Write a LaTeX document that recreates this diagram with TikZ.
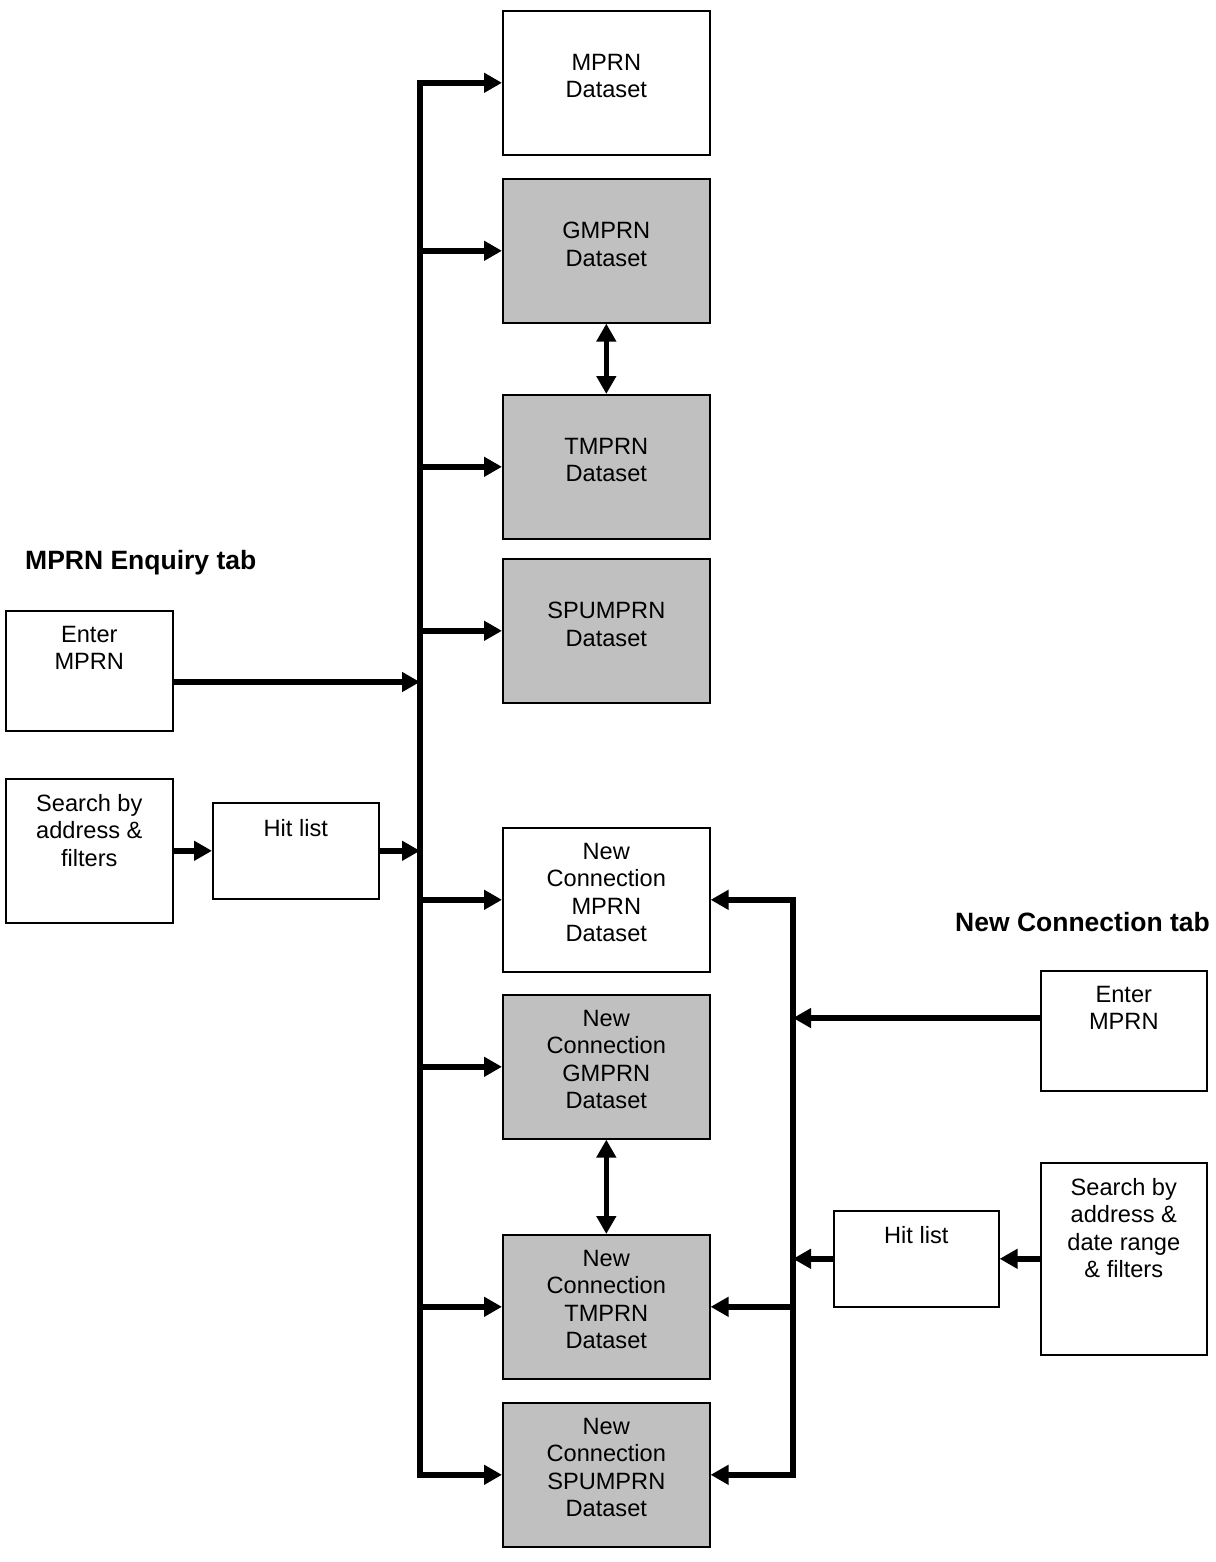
\documentclass[tikz,border=0pt]{standalone}
\usepackage{fontspec}
\setmainfont{Liberation Sans}
\usetikzlibrary{arrows.meta,calc}
\definecolor{boxgrey}{RGB}{192,192,192}
\begin{document}
\begin{tikzpicture}[x=1pt,y=-1pt,
  box/.style={draw, line width=1.6pt, inner sep=0pt, anchor=north west},
  dset/.style={box, minimum width=207pt, minimum height=144pt},
  greybox/.style={fill=boxgrey},
  txt/.style={anchor=north, align=center, inner sep=0pt, font=\fontsize{23.6}{27.5}\selectfont},
  head/.style={anchor=west, inner sep=0pt, font=\fontsize{26.5}{30}\selectfont\bfseries},
  bus/.style={line width=5.5pt, line cap=rect},
  conn/.style={line width=5.5pt, -{Triangle[length=18pt,width=19pt]}},
  dconn/.style={line width=5.5pt, {Triangle[length=18pt,width=19pt]}-{Triangle[length=18pt,width=19pt]}},
]
\useasboundingbox (0,0) rectangle (1215,1562);

% dataset boxes
\node[dset] (mprn) at (502,10) {};
\node[dset, greybox] (gmprn) at (502,178) {};
\node[dset, greybox] (tmprn) at (502,394) {};
\node[dset, greybox] (spu) at (502,558) {};
\node[dset] (ncm) at (502,827) {};
\node[dset, greybox] (ncg) at (502,994) {};
\node[dset, greybox] (nct) at (502,1234) {};
\node[dset, greybox] (ncs) at (502,1402) {};

\node[txt] (mprnT) at ($(mprn.north)+(0,44)$) {MPRN\\Dataset};
\node[txt] (gmprnT) at ($(gmprn.north)+(0,44)$) {GMPRN\\Dataset};
\node[txt] (tmprnT) at ($(tmprn.north)+(0,44)$) {TMPRN\\Dataset};
\node[txt] (spuT) at ($(spu.north)+(0,44)$) {SPUMPRN\\Dataset};
\node[txt] (ncmT) at ($(ncm.north)+(0,16)$) {New\\Connection\\MPRN\\Dataset};
\node[txt] (ncgT) at ($(ncg.north)+(0,16)$) {New\\Connection\\GMPRN\\Dataset};
\node[txt] (nctT) at ($(nct.north)+(0,16)$) {New\\Connection\\TMPRN\\Dataset};
\node[txt] (ncsT) at ($(ncs.north)+(0,16)$) {New\\Connection\\SPUMPRN\\Dataset};

% left side
\node[box, minimum width=167pt, minimum height=120pt] (enterL) at (5,610) {};
\node[txt] (enterLT) at ($(enterL.north)+(0,16)$) {Enter\\MPRN};
\node[box, minimum width=167pt, minimum height=144pt] (searchL) at (5,778) {};
\node[txt] (searchLT) at ($(searchL.north)+(0,16)$) {Search by\\address \&\\filters};
\node[box, minimum width=166pt, minimum height=96pt] (hitL) at (212,802) {};
\node[txt] (hitLT) at ($(hitL.north)+(0,17)$) {Hit list};
\node[head] (tabL) at (25,563) {MPRN Enquiry tab};

% right side
\node[box, minimum width=166pt, minimum height=120pt] (enterR) at (1040,970) {};
\node[txt] (enterRT) at ($(enterR.north)+(0,16)$) {Enter\\MPRN};
\node[box, minimum width=166pt, minimum height=192pt] (searchR) at (1040,1162) {};
\node[txt] (searchRT) at ($(searchR.north)+(0,16)$) {Search by\\address \&\\date range\\\& filters};
\node[box, minimum width=165pt, minimum height=96pt] (hitR) at (833,1210) {};
\node[txt] (hitRT) at ($(hitR.north)+(0,16)$) {Hit list};
\node[head] (tabR) at (955,922) {New Connection tab};

% bus coordinates
\coordinate (LB) at (420,0);
\coordinate (RB) at (793,0);
\coordinate (eL) at ($(enterL.north east)+(0,72)$);
\coordinate (eR) at ($(enterR.north west)+(0,48)$);

% left bus
\draw[bus] (LB |- mprn.west) -- (LB |- ncs.west);
\foreach \n in {mprn,gmprn,tmprn,spu,ncm,ncg,nct,ncs}
  \draw[conn] (LB |- \n.west) -- (\n.west);
\draw[conn] (eL) -- (LB |- eL);
\draw[conn] (searchL.east |- hitL.west) -- (hitL.west);
\draw[conn] (hitL.east) -- (LB |- hitL.east);

% right bus
\draw[bus] (RB |- ncm.east) -- (RB |- ncs.east);
\foreach \n in {ncm,nct,ncs}
  \draw[conn] (RB |- \n.east) -- (\n.east);
\draw[conn] (eR) -- (RB |- eR);
\draw[conn] (searchR.west |- hitR.east) -- (hitR.east);
\draw[conn] (hitR.west) -- (RB |- hitR.west);

% double arrows
\draw[dconn] (gmprn.south) -- (tmprn.north);
\draw[dconn] (ncg.south) -- (nct.north);
\end{tikzpicture}
\end{document}
